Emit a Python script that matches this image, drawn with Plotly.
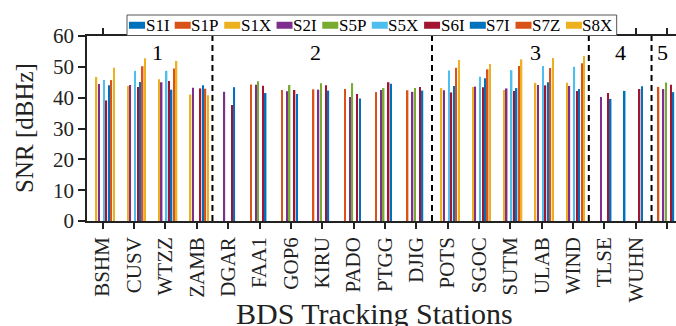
import plotly.graph_objects as go

stations = ["BSHM", "CUSV", "WTZZ", "ZAMB", "DGAR", "FAA1", "GOP6", "KIRU", "PADO",
            "PTGG", "DJIG", "POTS", "SGOC", "SUTM", "ULAB", "WIND", "TLSE", "WUHN", "HARB"]
groups = [1, 1, 1, 1, 2, 2, 2, 2, 2, 2, 2, 3, 3, 3, 3, 3, 4, 4, 5]
N = None
S1I = [N, N, N, N, N, N, N, N, N, N, N, N, N, N, N, N, N, 42.2, N]
S1P = [N, N, N, N, N, 44.3, 42.5, 42.7, 42.8, 41.8, 42.4, N, N, N, N, N, N, N, 43.5]
S1X = [46.7, 43.8, 46.0, 41.0, N, N, N, N, N, N, N, 43.1, 43.5, 42.5, 44.8, 44.8, N, N, N]
S2I = [44.4, 44.1, 45.0, 43.2, 41.9, 44.2, 42.1, 42.6, 40.2, 42.5, 41.9, 42.4, 43.6, 43.0, 44.1, 43.8, 40.2, N, 42.8]
S5P = [N, N, N, N, N, 45.3, 44.1, 44.7, 44.7, 43.1, 43.1, N, N, N, N, N, N, N, 44.9]
S5X = [45.7, 48.7, 48.7, N, N, N, N, N, N, N, N, 48.8, 46.8, 48.9, 50.3, 50.0, N, N, N]
S6I = [39.1, 43.5, 45.4, 43.0, 37.6, 43.9, 42.5, 44.0, 41.2, 45.0, 43.5, 41.7, 43.4, 42.2, 44.0, 42.2, 41.5, 42.8, 44.2]
S7I = [44.0, 45.1, 42.6, 44.0, 43.4, 41.5, 41.2, 42.3, 39.7, 44.5, 42.3, 43.8, 46.3, 43.1, 45.0, 42.8, 39.6, 43.7, 41.8]
S7Z = [45.7, 50.2, 49.5, 42.9, N, N, N, N, N, N, N, 49.7, 49.2, 50.3, 49.6, 51.2, N, N, N]
S8X = [49.7, 52.8, 51.9, 40.8, N, N, N, N, N, N, N, 52.2, 50.9, 52.4, 52.9, 53.5, N, N, N]

series_names = ["S1I", "S1P", "S1X", "S2I", "S5P", "S5X", "S6I", "S7I", "S7Z", "S8X"]
series_values = [S1I, S1P, S1X, S2I, S5P, S5X, S6I, S7I, S7Z, S8X]
colors = ["#0072BD", "#D95319", "#EDB120", "#7E2F8E", "#77AC30",
          "#4DBEEE", "#A2142F", "#0072BD", "#D95319", "#EDB120"]
group_labels = ["1", "2", "3", "4", "5"]
group_label_x = [1.75, 6.8, 13.8, 16.5, 17.85]

FONT = "Liberation Serif, Times New Roman, serif"
W, H = 676, 326
ML, MR, MT, MB = 87, 0, 36, 105
PW, PH = W - ML - MR, H - MT - MB

def px2paper_x(px):
    return (px - ML) / PW

def px2paper_y(py):
    return (H - MB - py) / PH

fig = go.Figure()
xidx = list(range(len(stations)))
for name, vals, col in zip(series_names, series_values, colors):
    fig.add_trace(go.Bar(x=xidx, y=vals, name=name, marker_color=col,
                         marker_line_width=0, showlegend=False))

shapes = []
for i in range(1, len(groups)):
    if groups[i] != groups[i - 1]:
        shapes.append(dict(type="line", xref="x", yref="y", x0=i - 0.5, x1=i - 0.5,
                           y0=0, y1=60, line=dict(color="black", width=2, dash="6px,4px"),
                           layer="above"))

annotations = []
for lab, gx in zip(group_labels, group_label_x):
    annotations.append(dict(x=gx, y=54.5, xref="x", yref="y", text=lab, showarrow=False,
                            xanchor="center", yanchor="middle",
                            font=dict(family=FONT, size=22, color="black")))

# axis titles
annotations.append(dict(x=px2paper_x(374), y=px2paper_y(313), xref="paper", yref="paper",
                        text="BDS Tracking Stations", showarrow=False,
                        xanchor="center", yanchor="middle",
                        font=dict(family=FONT, size=30, color="#222222")))
annotations.append(dict(x=px2paper_x(24), y=px2paper_y(128), xref="paper", yref="paper",
                        text="SNR [dBHz]", showarrow=False, textangle=-90,
                        xanchor="center", yanchor="middle",
                        font=dict(family=FONT, size=25, color="#222222")))

# custom legend
char_w = {"S": 0.556, "1": 0.5, "2": 0.5, "5": 0.5, "6": 0.5, "7": 0.5, "8": 0.5,
          "I": 0.333, "P": 0.556, "X": 0.722, "Z": 0.611}
lfs = 17
box_l, box_t, box_b = 127, 15, 35.5
xcur = box_l + 2
yc = (box_t + box_b) / 2
gap = 4.6
entries = []
for name, col in zip(series_names, colors):
    tw = sum(char_w[c] for c in name) * lfs
    entries.append((xcur, name, col, tw))
    xcur += 16 + 1.5 + tw + gap
box_r = xcur - gap + 3
shapes.append(dict(type="rect", xref="paper", yref="paper",
                   x0=px2paper_x(box_l), x1=px2paper_x(box_r),
                   y0=px2paper_y(box_b), y1=px2paper_y(box_t),
                   fillcolor="white", line=dict(color="#555555", width=1), layer="above"))
for x0, name, col, tw in entries:
    shapes.append(dict(type="rect", xref="paper", yref="paper",
                       x0=px2paper_x(x0), x1=px2paper_x(x0 + 16),
                       y0=px2paper_y(yc + 3.5), y1=px2paper_y(yc - 3.5),
                       fillcolor=col, line=dict(width=0), layer="above"))
    annotations.append(dict(x=px2paper_x(x0 + 16.5), y=px2paper_y(yc + 0.5), xref="paper",
                            yref="paper", text=name, showarrow=False, xanchor="left",
                            yanchor="middle", xshift=-2,
                            font=dict(family=FONT, size=lfs, color="black")))

fig.update_layout(
    width=W, height=H,
    margin=dict(l=ML, r=MR, t=MT, b=MB, pad=0, autoexpand=False),
    paper_bgcolor="white", plot_bgcolor="white",
    barmode="group", bargap=0.21, bargroupgap=0.4,
    font=dict(family=FONT, color="black"),
    shapes=shapes, annotations=annotations,
    showlegend=False,
)
fig.update_xaxes(
    tickmode="array", tickvals=xidx, ticktext=stations, tickangle=-90,
    range=[-0.5, 18.28], showline=True, linecolor="#222222", linewidth=1.5,
    mirror="ticks", ticks="outside", ticklen=6, tickwidth=1.5, tickcolor="#222222",
    showgrid=False, zeroline=False, tickfont=dict(family=FONT, size=21, color="#222222"),
    automargin=False,
)
fig.update_yaxes(
    range=[0, 60], dtick=10, showline=True, linecolor="#222222", linewidth=1.5,
    ticks="outside", ticklen=7, tickwidth=1.5, tickcolor="#222222",
    showgrid=False, zeroline=False, tickfont=dict(family=FONT, size=21, color="#222222"),
    automargin=False,
)
fig.write_html("out.html", config={"displayModeBar": False},
               post_script="document.body.style.margin='0px';document.body.style.overflow='hidden';")
